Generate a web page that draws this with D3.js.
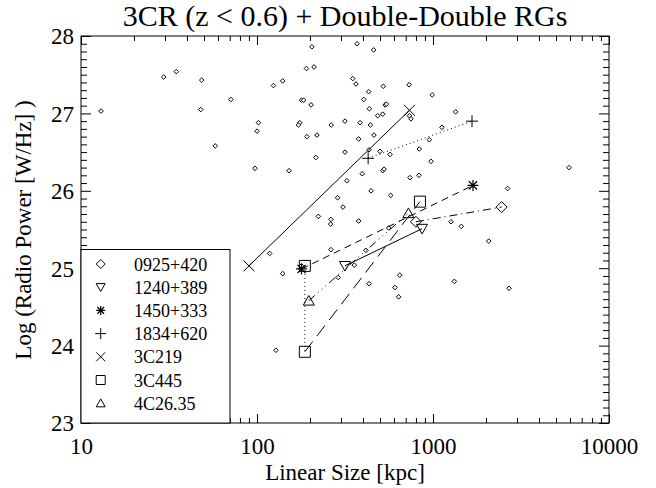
<!DOCTYPE html>
<html><head><meta charset="utf-8">
<script src="https://cdn.jsdelivr.net/npm/d3@7"></script>
<style>body{margin:0;background:#fff}svg{display:block}text{font-family:"Liberation Serif","Times New Roman",serif}</style>
</head><body><svg id="c" width="656" height="488"></svg>
<script>
// 3CR (z<0.6) sample: linear size [kpc] and log radio power [W/Hz]
const ccrSize = [13.0,29.5,34.8,48.5,47.9,71.1,57.9,102,100,97.4,
  205,370,460,191,211,124,140,350,365,431,
  522,731,179,184,203,404,535,543,435,485,
  518,735,750,175,172,264,316,385,441,192,
  219,378,462,316,433,500,570,836,953,216,
  152,396,518,527,324,740,832,990,1345,1124,
  975,5930,445,575,287,308,223,263,262,378,
  560,118,263,416,140,289,357,433,647,608,
  638,179,2655,1265,1448,2073,1322,2704,128];
const ccrPower = [27.03,27.47,27.54,27.43,27.05,27.18,26.58,26.88,26.77,26.29,
  27.86,27.90,27.82,27.58,27.60,27.36,27.42,27.45,27.38,27.28,
  27.35,27.37,27.17,27.17,27.11,27.18,27.11,27.12,27.06,26.97,
  26.99,26.97,26.93,26.88,26.85,26.85,26.90,26.88,26.85,26.70,
  26.72,26.67,26.72,26.50,26.53,26.51,26.47,26.54,26.66,26.43,
  26.26,26.22,26.26,26.28,26.13,26.17,26.20,27.24,27.02,26.82,
  26.38,26.30,26.00,25.94,25.91,25.79,25.67,25.63,25.57,25.61,
  25.52,25.19,25.24,25.23,24.93,24.88,25.04,24.80,24.91,24.75,
  24.63,25.03,26.03,25.60,25.54,25.35,24.83,24.74,23.94];

// Double-double radio galaxies
const ddNames = ["0925+420","1240+389","1450+333","1834+620","3C219","3C445","4C26.35"];
const ddSize = [[800,2455],[316,866],[179,1687],[428,1666],[90,735],[187,187,843],[197,725]];
const ddPower = [[25.60,25.79],[25.03,25.51],[24.99,26.07],[26.42,26.90],[25.03,27.04],[25.03,23.92,25.86],[24.58,25.71]];
// connections between points of each source: [from, to]
const ddLinks = [[[0,1]],[[0,1]],[[0,1]],[[0,1]],[[0,1]],[[0,1],[1,2]],[[0,1]]];

const xTicks = [10,100,1000,10000];
const yTicks = [23,24,25,26,27,28];

// styles
const FONT = '"Liberation Serif","Times New Roman",serif';
const symbolKind = ["diamond","triDown","asterisk","plus","cross","square","triUp"];
const linkDash = [["8,4,1,4"],["none"],["7,5"],["1,3"],["none"],["1,3","13,7"],["8,4,1,4,1,4,1,4"]];

const svg = d3.select("#c");
const L=81,R=609,T=36,B=423;
const x = d3.scaleLog().domain([10,10000]).range([L,R]);
const y = d3.scaleLinear().domain([23,28]).range([B,T]);

const minorX = [];
for (let d=10; d<10000; d*=10) for (let k=2;k<=9;k++) minorX.push(d*k);
const minorY = [];
for (let i=0;i<=50;i++){ const v=23+i*0.1; if (i%10!==0) minorY.push(+v.toFixed(1)); }

function ax(g, axis){ g.call(axis); g.attr("font-family",FONT).attr("font-size",23);
  g.select(".domain").remove(); g.selectAll("line").attr("stroke","#000"); return g; }

const gxb = ax(svg.append("g").attr("transform",`translate(0,${B})`), d3.axisBottom(x).tickValues(xTicks).tickSize(-9).tickFormat(d3.format("d")));
ax(svg.append("g").attr("transform",`translate(0,${B})`), d3.axisBottom(x).tickValues(minorX).tickSize(-5).tickFormat(""));
ax(svg.append("g").attr("transform",`translate(0,${T})`), d3.axisTop(x).tickValues(xTicks).tickSize(-9).tickFormat(""));
ax(svg.append("g").attr("transform",`translate(0,${T})`), d3.axisTop(x).tickValues(minorX).tickSize(-5).tickFormat(""));
const gyl = ax(svg.append("g").attr("transform",`translate(${L},0)`), d3.axisLeft(y).tickValues(yTicks).tickSize(-10).tickFormat(d3.format("d")));
ax(svg.append("g").attr("transform",`translate(${L},0)`), d3.axisLeft(y).tickValues(minorY).tickSize(-6).tickFormat(""));
ax(svg.append("g").attr("transform",`translate(${R},0)`), d3.axisRight(y).tickValues(yTicks).tickSize(-10).tickFormat(""));
ax(svg.append("g").attr("transform",`translate(${R},0)`), d3.axisRight(y).tickValues(minorY).tickSize(-6).tickFormat(""));

gxb.selectAll(".tick text").attr("fill","#000").attr("y",31).attr("dy",0);
gyl.selectAll(".tick text").attr("fill","#000").attr("x",-7).attr("dy","0.34em");

svg.append("rect").attr("x",L).attr("y",T).attr("width",R-L).attr("height",B-T)
  .attr("fill","none").attr("stroke","#000").attr("stroke-width",1);

// 3CR points
const smallDia = "M0,-2.3L2.3,0L0,2.3L-2.3,0Z";
svg.append("g").selectAll("path").data(d3.range(ccrSize.length)).join("path")
  .attr("d",smallDia).attr("transform",i=>`translate(${x(ccrSize[i])},${y(ccrPower[i])})`)
  .attr("fill","#fff").attr("stroke","#000").attr("stroke-width",1);

// links
ddNames.forEach((n,s)=>{
  ddLinks[s].forEach((lk,j)=>{
    const a=lk[0], b=lk[1];
    svg.append("line").attr("x1",x(ddSize[s][a])).attr("y1",y(ddPower[s][a]))
      .attr("x2",x(ddSize[s][b])).attr("y2",y(ddPower[s][b]))
      .attr("stroke","#000").attr("stroke-width",1)
      .attr("stroke-dasharray",linkDash[s][j]);
  });
});

function sym(kind, r){
  switch(kind){
    case "diamond": return `M0,${-r}L${r},0L0,${r}L${-r},0Z`;
    case "triDown": return `M${-r},${-r*0.8}L${r},${-r*0.8}L0,${r*0.95}Z`;
    case "triUp": return `M${-r},${r*0.8}L${r},${r*0.8}L0,${-r*0.95}Z`;
    case "square": return `M${-r},${-r}H${r}V${r}H${-r}Z`;
    case "plus": return `M${-r},0H${r}M0,${-r}V${r}`;
    case "cross": return `M${-r},${-r}L${r},${r}M${-r},${r}L${r},${-r}`;
    case "asterisk": { const q=r*0.75; return `M${-r},0H${r}M0,${-r}V${r}M${-q},${-q}L${q},${q}M${-q},${q}L${q},${-q}`; }
  }
}
ddNames.forEach((n,s)=>{
  ddSize[s].forEach((v,k)=>{
    svg.append("path").attr("d",sym(symbolKind[s],symbolKind[s]==="plus"?6:5.5))
      .attr("transform",`translate(${x(v)},${y(ddPower[s][k])})`)
      .attr("fill","none").attr("stroke","#000").attr("stroke-width",symbolKind[s]==="asterisk"?1.2:1);
  });
});

// legend
const lg = svg.append("g");
lg.append("rect").attr("x",L).attr("y",249.5).attr("width",149).attr("height",B-249.5)
  .attr("fill","#fff").attr("stroke","#000").attr("stroke-width",1);
ddNames.forEach((n,i)=>{
  const cy = 264 + i*23.2;
  lg.append("path").attr("d",sym(symbolKind[i],symbolKind[i]==="plus"?5.5:4.5))
    .attr("transform",`translate(100.7,${cy})`).attr("fill","none").attr("stroke","#000")
    .attr("stroke-width",symbolKind[i]==="asterisk"?1.2:1);
  lg.append("text").attr("x",134).attr("y",cy+6.5).attr("font-family",FONT).attr("font-size",18).attr("fill","#000").text(n);
});

// titles
svg.append("text").attr("x",345).attr("y",26).attr("text-anchor","middle").attr("font-family",FONT).attr("font-size",30).text("3CR (z < 0.6) + Double-Double RGs");
svg.append("text").attr("x",345).attr("y",480).attr("text-anchor","middle").attr("font-family",FONT).attr("font-size",23).text("Linear Size [kpc]");
svg.append("text").attr("transform","translate(31,230) rotate(-90)").attr("text-anchor","middle").attr("font-family",FONT).attr("font-size",23).text("Log (Radio Power [W/Hz] )");
</script></body></html>
